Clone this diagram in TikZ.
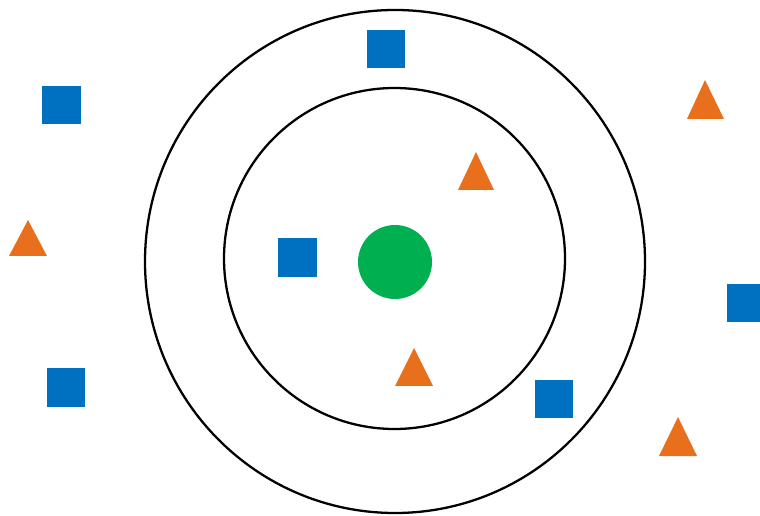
\documentclass[tikz,border=0pt]{standalone}
\usepackage{tikz}
\usepackage{xcolor}
\definecolor{ptblue}{RGB}{0,112,192}
\definecolor{ptorange}{RGB}{232,112,28}
\definecolor{ptgreen}{RGB}{0,176,80}
\begin{document}
\begin{tikzpicture}[x=0.02cm,y=-0.02cm,
  ring/.style={draw=black,line width=1.3pt},
  sq/.style={fill=ptblue},
  tri/.style={fill=ptorange}]
\useasboundingbox (0,0) rectangle (760,516);
% neighbourhood rings
\draw[ring] (395,261.5) ellipse (250 and 251.5);
\draw[ring] (394.5,258.5) circle (170.5);
% query point
\fill[ptgreen] (395,262) circle (37);
% squares
\fill[sq] (367,30) rectangle (405,68);
\fill[sq] (42,86) rectangle (81,124);
\fill[sq] (278,238) rectangle (317,277);
\fill[sq] (47,368) rectangle (85,407);
\fill[sq] (535,380) rectangle (573,418);
\fill[sq] (727,284) rectangle (765,322);
% triangles
\fill[tri] (687,119) -- (705,80) -- (724,119) -- cycle;
\fill[tri] (458,190) -- (476,152) -- (494,190) -- cycle;
\fill[tri] (9,256) -- (28,220) -- (47,256) -- cycle;
\fill[tri] (395,386) -- (414,348) -- (433,386) -- cycle;
\fill[tri] (659,456) -- (678,417) -- (697,456) -- cycle;
\end{tikzpicture}
\end{document}
